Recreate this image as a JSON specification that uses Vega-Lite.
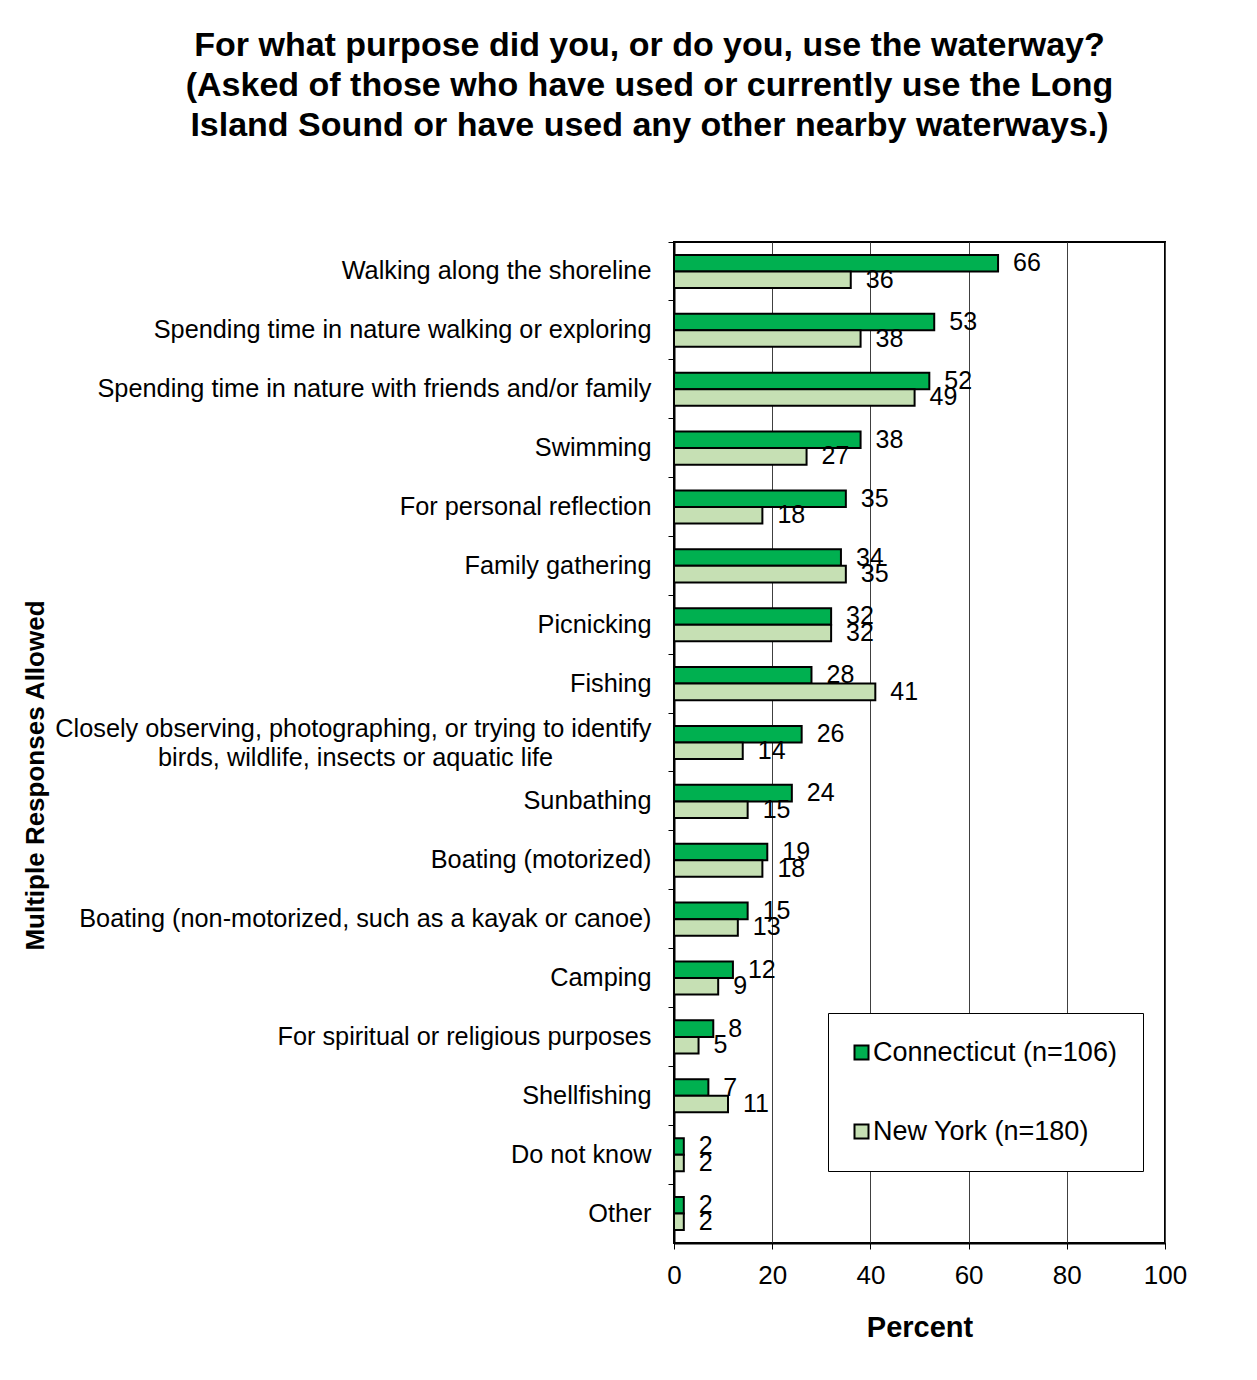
{
  "$schema": "https://vega.github.io/schema/vega-lite/v6.json",
  "autosize": "none",
  "width": 491,
  "height": 1001,
  "padding": {"left": 674, "top": 242, "right": 92, "bottom": 137},
  "background": "white",
  "config": {
    "font": "Liberation Sans",
    "view": {"stroke": "black", "strokeWidth": 2},
    "axis": {"labelColor": "black", "titleColor": "black", "labelFont": "Liberation Sans", "titleFont": "Liberation Sans"},
    "legend": {"labelFont": "Liberation Sans", "labelColor": "black"}
  },
  "title": {
    "text": [
      "For what purpose did you, or do you, use the waterway?",
      "(Asked of those who have used or currently use the Long",
      "Island Sound or have used any other nearby waterways.)"
    ],
    "font": "Liberation Sans",
    "fontSize": 34,
    "fontWeight": "bold",
    "color": "black",
    "anchor": "middle",
    "frame": "group",
    "dx": -270,
    "lineHeight": 40,
    "offset": 99
  },
  "data": {
    "values": [
      {"activity": "Walking along the shoreline", "state": "Connecticut (n=106)", "value": 66},
      {"activity": "Walking along the shoreline", "state": "New York (n=180)", "value": 36},
      {"activity": "Spending time in nature walking or exploring", "state": "Connecticut (n=106)", "value": 53},
      {"activity": "Spending time in nature walking or exploring", "state": "New York (n=180)", "value": 38},
      {"activity": "Spending time in nature with friends and/or family", "state": "Connecticut (n=106)", "value": 52},
      {"activity": "Spending time in nature with friends and/or family", "state": "New York (n=180)", "value": 49},
      {"activity": "Swimming", "state": "Connecticut (n=106)", "value": 38},
      {"activity": "Swimming", "state": "New York (n=180)", "value": 27},
      {"activity": "For personal reflection", "state": "Connecticut (n=106)", "value": 35},
      {"activity": "For personal reflection", "state": "New York (n=180)", "value": 18},
      {"activity": "Family gathering", "state": "Connecticut (n=106)", "value": 34},
      {"activity": "Family gathering", "state": "New York (n=180)", "value": 35},
      {"activity": "Picnicking", "state": "Connecticut (n=106)", "value": 32},
      {"activity": "Picnicking", "state": "New York (n=180)", "value": 32},
      {"activity": "Fishing", "state": "Connecticut (n=106)", "value": 28},
      {"activity": "Fishing", "state": "New York (n=180)", "value": 41},
      {"activity": "Closely observing, photographing, or trying to identify birds, wildlife, insects or aquatic life", "state": "Connecticut (n=106)", "value": 26},
      {"activity": "Closely observing, photographing, or trying to identify birds, wildlife, insects or aquatic life", "state": "New York (n=180)", "value": 14},
      {"activity": "Sunbathing", "state": "Connecticut (n=106)", "value": 24},
      {"activity": "Sunbathing", "state": "New York (n=180)", "value": 15},
      {"activity": "Boating (motorized)", "state": "Connecticut (n=106)", "value": 19},
      {"activity": "Boating (motorized)", "state": "New York (n=180)", "value": 18},
      {"activity": "Boating (non-motorized, such as a kayak or canoe)", "state": "Connecticut (n=106)", "value": 15},
      {"activity": "Boating (non-motorized, such as a kayak or canoe)", "state": "New York (n=180)", "value": 13},
      {"activity": "Camping", "state": "Connecticut (n=106)", "value": 12},
      {"activity": "Camping", "state": "New York (n=180)", "value": 9},
      {"activity": "For spiritual or religious purposes", "state": "Connecticut (n=106)", "value": 8},
      {"activity": "For spiritual or religious purposes", "state": "New York (n=180)", "value": 5},
      {"activity": "Shellfishing", "state": "Connecticut (n=106)", "value": 7},
      {"activity": "Shellfishing", "state": "New York (n=180)", "value": 11},
      {"activity": "Do not know", "state": "Connecticut (n=106)", "value": 2},
      {"activity": "Do not know", "state": "New York (n=180)", "value": 2},
      {"activity": "Other", "state": "Connecticut (n=106)", "value": 2},
      {"activity": "Other", "state": "New York (n=180)", "value": 2}
    ]
  },
  "encoding": {
    "y": {
      "field": "activity",
      "type": "nominal",
      "sort": null,
      "scale": {"paddingInner": 0, "paddingOuter": 0},
      "axis": {
        "title": "Multiple Responses Allowed",
        "titleFontSize": 26,
        "titleFontWeight": "bold",
        "titleX": -639,
        "titleY": 533,
        "titleAngle": -90,
        "titleBaseline": "middle",
        "titleAlign": "center",
        "labelFontSize": 25.3,
        "labelPadding": 17,
        "labelLimit": 1000,
        "labelLineHeight": 29,
        "labelOffset": {
          "condition": {"test": "indexof(datum.value, 'Closely') == 0", "value": -14},
          "value": 0
        },
        "labelExpr": "datum.value == 'Closely observing, photographing, or trying to identify birds, wildlife, insects or aquatic life' ? ['Closely observing, photographing, or trying to identify', 'birds, wildlife, insects or aquatic life\u00a0\u00a0\u00a0\u00a0\u00a0\u00a0\u00a0\u00a0\u00a0\u00a0\u00a0\u00a0\u00a0\u00a0\u200b'] : datum.label",
        "tickSize": 6,
        "tickColor": "black",
        "tickWidth": 1,
        "bandPosition": 0,
        "domainColor": "black",
        "domainWidth": 2,
        "grid": false
      }
    },
    "yOffset": {
      "field": "state",
      "type": "nominal",
      "sort": ["Connecticut (n=106)", "New York (n=180)"],
      "scale": {"paddingInner": 0, "paddingOuter": 0.78}
    },
    "x": {
      "field": "value",
      "type": "quantitative",
      "scale": {"domain": [0, 100]},
      "axis": {
        "values": [0, 20, 40, 60, 80, 100],
        "title": "Percent",
        "titleFontSize": 29,
        "titleFontWeight": "bold",
        "titlePadding": 25,
        "labelFontSize": 26,
        "labelPadding": 13,
        "labelFlush": false,
        "tickSize": 6,
        "tickColor": "black",
        "domainColor": "black",
        "domainWidth": 2,
        "grid": true,
        "gridColor": "#404040",
        "gridWidth": 1,
        "gridOpacity": 1
      }
    }
  },
  "layer": [
    {
      "mark": {"type": "bar", "stroke": "black", "strokeWidth": 2},
      "encoding": {
        "color": {
          "field": "state",
          "type": "nominal",
          "sort": ["Connecticut (n=106)", "New York (n=180)"],
          "scale": {"range": ["#00B050", "#C6E0B4"]},
          "legend": {
            "title": null,
            "orient": "none",
            "legendX": 154,
            "legendY": 771,
            "strokeColor": "black",
            "fillColor": "white",
            "padding": 26,
            "rowPadding": 51,
            "symbolType": "square",
            "symbolSize": 196,
            "symbolOffset": -6,
            "symbolStrokeColor": "black",
            "symbolStrokeWidth": 2,
            "symbolOpacity": 1,
            "labelFontSize": 27,
            "labelOffset": -2,
            "labelLimit": 400
          }
        }
      }
    },
    {
      "mark": {"type": "text", "align": "left", "baseline": "middle", "dx": 15, "fontSize": 25, "font": "Liberation Sans", "color": "black"},
      "encoding": {
        "text": {"field": "value", "type": "quantitative"}
      }
    }
  ]
}
